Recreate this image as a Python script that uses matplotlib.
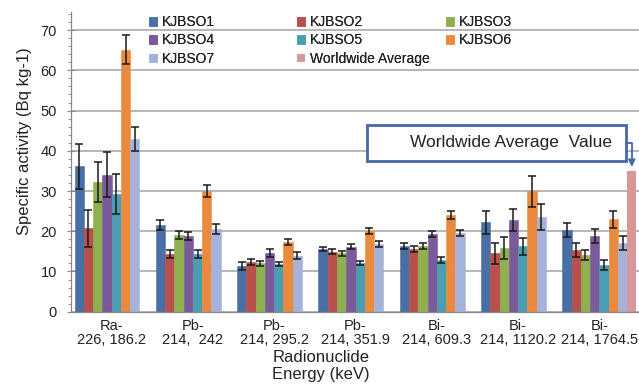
import matplotlib
matplotlib.use("Agg")
import matplotlib.pyplot as plt
from matplotlib.patches import Rectangle
from matplotlib.ticker import MultipleLocator
import numpy as np

plt.rcParams['font.family'] = ['Liberation Sans', 'DejaVu Sans']

# radionuclide / gamma line categories
categories = ["Ra-\n226, 186.2", "Pb-\n214,  242", "Pb-\n214, 295.2", "Pb-\n214, 351.9",
              "Bi-\n214, 609.3", "Bi-\n214, 1120.2", "Bi-\n214, 1764.5"]

sites = ["KJBSO1", "KJBSO2", "KJBSO3", "KJBSO4", "KJBSO5", "KJBSO6", "KJBSO7"]

# specific activity (Bq/kg) per site, one value per category
kjbso1 = [36.1, 21.6, 11.4, 15.6, 16.4, 22.2, 20.3]
kjbso2 = [20.7, 14.4, 12.4, 14.9, 15.6, 14.5, 15.3]
kjbso3 = [32.2, 19.1, 12.0, 14.5, 16.4, 15.8, 14.1]
kjbso4 = [34.0, 18.7, 14.5, 16.2, 19.3, 22.8, 18.8]
kjbso5 = [29.2, 14.4, 11.8, 12.0, 12.9, 16.3, 11.6]
kjbso6 = [65.1, 29.9, 17.3, 20.1, 24.1, 29.9, 23.0]
kjbso7 = [42.9, 20.6, 13.9, 16.8, 19.5, 23.5, 17.0]

# uncertainties
err1 = [5.5, 1.3, 1.0, 0.6, 0.7, 2.9, 1.7]
err2 = [4.5, 1.0, 0.7, 0.6, 0.7, 2.7, 1.8]
err3 = [5.0, 1.0, 0.7, 0.7, 0.8, 2.8, 1.3]
err4 = [5.6, 1.0, 1.0, 0.7, 0.8, 2.8, 1.8]
err5 = [5.0, 1.0, 0.5, 0.5, 0.7, 2.1, 1.3]
err6 = [3.6, 1.5, 0.8, 0.8, 1.0, 3.9, 2.1]
err7 = [3.0, 1.2, 0.9, 0.8, 0.8, 3.3, 1.7]

# worldwide average only shown in the last group
worldwide = [0, 0, 0, 0, 0, 0, 35]

values = [kjbso1, kjbso2, kjbso3, kjbso4, kjbso5, kjbso6, kjbso7]
errors = [err1, err2, err3, err4, err5, err6, err7]
colors = ['#4a6fa5', '#b8504c', '#8db050', '#7b5a9a', '#4b9db2', '#eb8a3e', '#a5b3db']
wa_color = '#d9979a'

fig = plt.figure(figsize=(6.39, 3.92), dpi=100)
ax = fig.add_axes([71 / 639, 1 - 311.7 / 392, 569 / 639, 299.7 / 392])

x = np.arange(len(categories))
n_series = 8
w = 0.114
offsets = (np.arange(n_series) - (n_series - 1) / 2) * w

handles = []
for i in range(7):
    b = ax.bar(x + offsets[i], values[i], w, color=colors[i], edgecolor=colors[i],
               linewidth=0.4, zorder=2, label=sites[i])
    ax.errorbar(x + offsets[i], values[i], yerr=errors[i], fmt='none', ecolor='#1a1a1a',
                elinewidth=1.1, capsize=3, capthick=1.1, zorder=3)
    handles.append(b)

wa = ax.bar(x + offsets[7], worldwide, w, color=wa_color, linewidth=0, zorder=2,
            label="Worldwide Average")
handles.append(wa)

ax.set_xlim(-0.5, len(categories) - 0.5)
ax.set_ylim(0, 74.5)
ax.yaxis.set_major_locator(MultipleLocator(10))
ax.yaxis.set_minor_locator(MultipleLocator(2))
ax.grid(axis='y', which='major', color='#aaaaaa', linewidth=1.2, zorder=0)
ax.set_axisbelow(True)

ax.set_xticks(x)
ax.set_xticklabels(categories, fontsize=10.5, linespacing=1.0, color='#222222')
ax.tick_params(axis='x', length=0, pad=5)
ax.tick_params(axis='y', which='major', direction='inout', length=6, width=0.8,
               color='#888888', labelsize=10.5, labelcolor='#222222', pad=7)
ax.tick_params(axis='y', which='minor', direction='out', length=2.5, width=0.6,
               color='#888888')

for s in ['top', 'right']:
    ax.spines[s].set_visible(False)
for s in ['left', 'bottom']:
    ax.spines[s].set_color('#888888')
    ax.spines[s].set_linewidth(0.9)

fig.text(25 / 639, 1 - 141.5 / 392, "Specific activity (Bq kg-1)", rotation=90,
         ha='center', va='center', fontsize=12, color='#222222')
fig.text(321 / 639, 1 - 350 / 392, "Radionuclide\nEnergy (keV)", ha='center', va='top',
         fontsize=12, color='#222222', linespacing=1.15)

# legend laid out as three columns
cols = [[0, 3, 6], [1, 4, 7], [2, 5]]
col_x = [149, 297, 446]
for k, idx in enumerate(cols):
    leg = fig.legend([handles[j] for j in idx], [handles[j].get_label() for j in idx],
                     loc='upper left', bbox_to_anchor=(col_x[k] / 639, 1 - 15 / 392),
                     frameon=False, fontsize=10, borderpad=0, borderaxespad=0,
                     handlelength=0.6, handleheight=0.6, handletextpad=0.3,
                     labelspacing=0.32, labelcolor='#222222')
    fig.add_artist(leg)

# call-out box pointing at the worldwide average bar
box_col = '#4369a8'
x_to_ax = lambda px: (px - 71) / 569
y_to_ax = lambda py: (311.7 - py) / 299.7
ax.add_patch(Rectangle((x_to_ax(367), y_to_ax(161)), x_to_ax(626) - x_to_ax(367),
                       y_to_ax(125) - y_to_ax(161), transform=ax.transAxes,
                       facecolor='white', edgecolor=box_col, linewidth=2, zorder=5,
                       clip_on=False))
ax.text(x_to_ax(612), y_to_ax(143), "Worldwide Average  Value", transform=ax.transAxes,
        ha='right', va='center', fontsize=12.5, color='#222222', zorder=6)
wa_x = x[-1] + offsets[7]
ax.annotate("", xy=(wa_x, worldwide[-1] + 1), xycoords='data',
            xytext=(x_to_ax(626), y_to_ax(143)), textcoords='axes fraction',
            arrowprops=dict(arrowstyle='-|>', color=box_col, lw=1.3,
                            connectionstyle='angle,angleA=0,angleB=90,rad=0',
                            shrinkA=0, shrinkB=0, mutation_scale=10),
            zorder=5, annotation_clip=False)

fig.savefig("out.png", dpi=100, facecolor='white')
